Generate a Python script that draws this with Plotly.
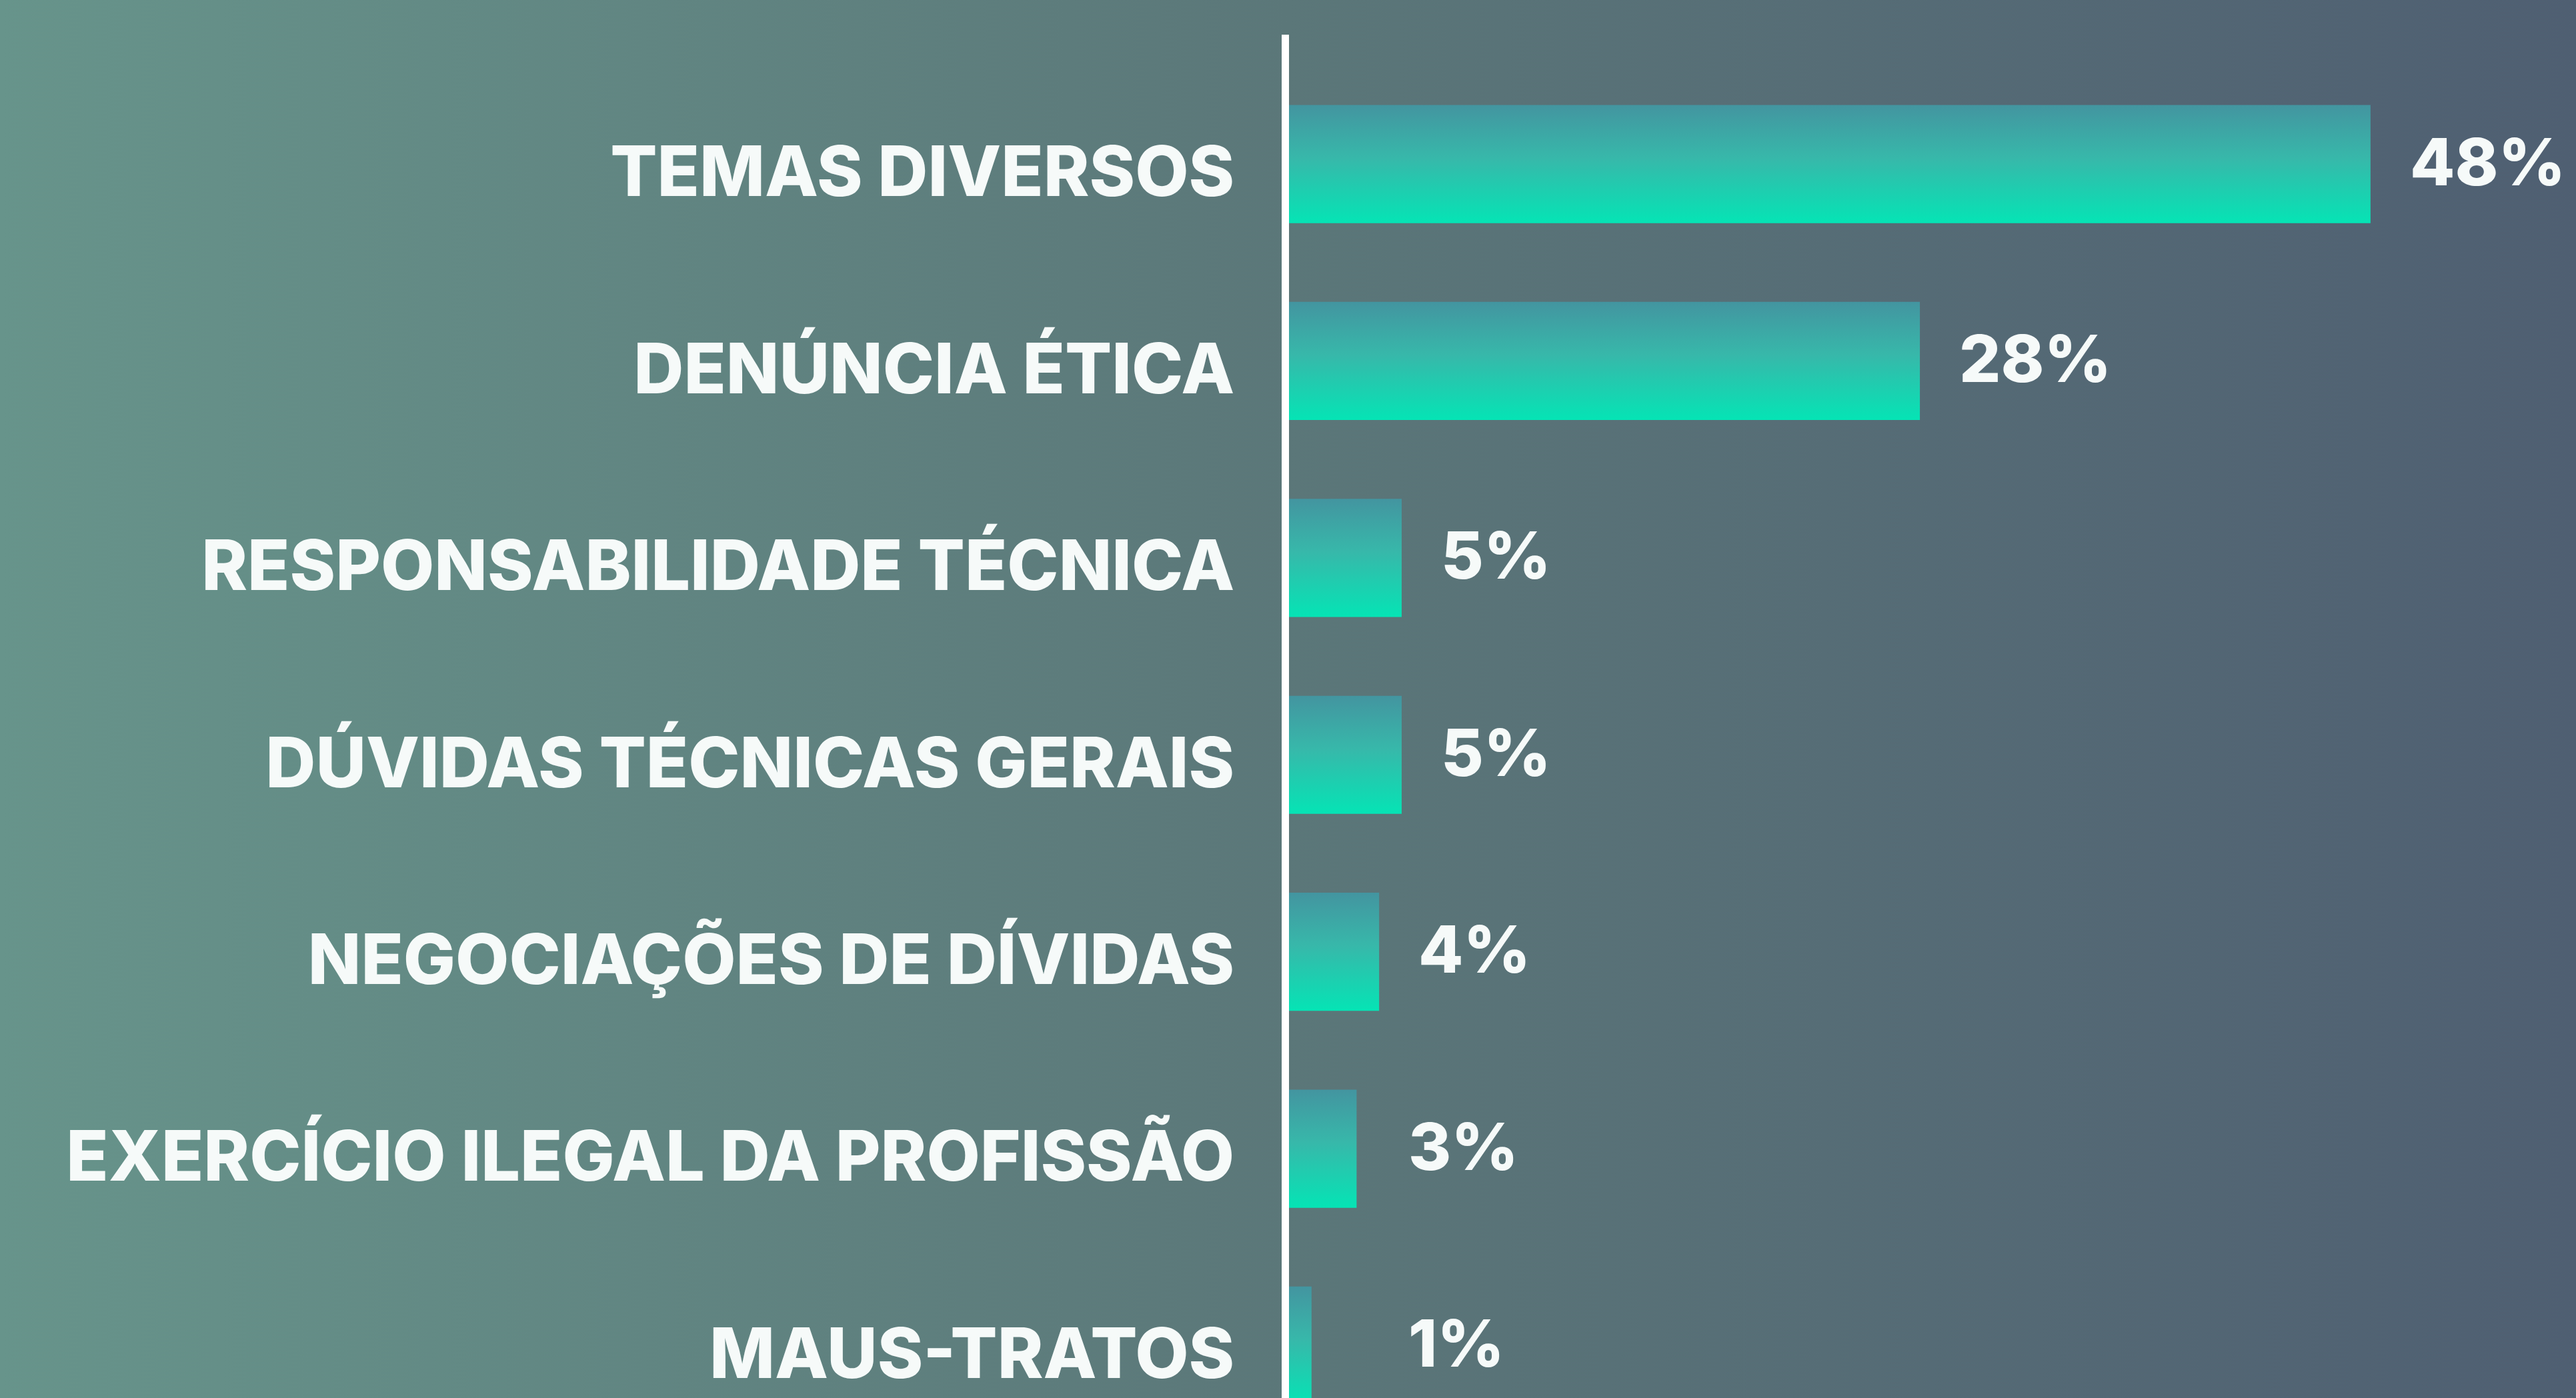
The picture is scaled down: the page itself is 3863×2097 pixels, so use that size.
import plotly.graph_objects as go

# Share of requests by subject (percent)
categories = [
    "TEMAS DIVERSOS",
    "DENÚNCIA ÉTICA",
    "RESPONSABILIDADE TÉCNICA",
    "DÚVIDAS TÉCNICAS GERAIS",
    "NEGOCIAÇÕES DE DÍVIDAS",
    "EXERCÍCIO ILEGAL DA PROFISSÃO",
    "MAUS-TRATOS",
]
values = [48, 28, 5, 5, 4, 3, 1]
value_labels = [f"{v}%" for v in values]

W, H = 3863, 2097
FONT = "Inter"
TEXT = "#F6FAF9"
BAR_HALF = 0.3
BAR_SCALE = [[0.0, "#4395A0"], [0.45, "#37B8AA"], [1.0, "#05E4B5"]]
BG_SCALE = [[0.0, "#67948B"], [0.5, "#5B7779"], [1.0, "#4F5F72"]]
LABEL_FLOOR = 3.55  # small values keep their labels in one column

fig = go.Figure()

# background: horizontal gradient over the whole page
fig.add_trace(go.Scatter(
    x=[0, 1, 1, 0, 0], y=[0, 0, 1, 1, 0],
    mode="lines", fill="toself", line=dict(width=0),
    fillgradient=dict(type="horizontal", colorscale=BG_SCALE, start=0, stop=1),
    hoverinfo="skip", showlegend=False, xaxis="x", yaxis="y",
))

# one filled rectangle per bar, each with its own vertical gradient
for i, v in enumerate(values):
    y0, y1 = i - BAR_HALF, i + BAR_HALF
    fig.add_trace(go.Scatter(
        x=[0, v, v, 0, 0], y=[y0, y0, y1, y1, y0],
        mode="lines", fill="toself", line=dict(width=0),
        fillgradient=dict(type="vertical", colorscale=BAR_SCALE, start=y0, stop=y1),
        hoverinfo="skip", showlegend=False, xaxis="x2", yaxis="y2",
    ))

annotations = [
    dict(
        x=max(v, LABEL_FLOOR), y=i, xref="x2", yref="y2",
        text=lab, showarrow=False,
        xanchor="left", yanchor="middle", xshift=57, yshift=4,
        font=dict(family=FONT, size=98, color=TEXT, weight=800),
    )
    for i, (v, lab) in enumerate(zip(values, value_labels))
]

fig.update_layout(
    width=W, height=H,
    margin=dict(l=0, r=0, t=0, b=0),
    paper_bgcolor="#5B7779",
    plot_bgcolor="rgba(0,0,0,0)",
    showlegend=False,
    xaxis=dict(domain=[0, 1], range=[0, 1], visible=False, fixedrange=True),
    yaxis=dict(domain=[0, 1], range=[0, 1], visible=False, fixedrange=True),
    xaxis2=dict(
        domain=[1933 / W, 1], range=[0, 57.12], anchor="y2",
        visible=False, showgrid=False, zeroline=False,
    ),
    yaxis2=dict(
        domain=[0, 1 - 52 / H], range=[6.266, -0.657], anchor="x2",
        tickmode="array", tickvals=list(range(len(categories))),
        ticktext=categories,
        tickfont=dict(family=FONT, size=104, color=TEXT, weight=800),
        showline=True, linecolor="#FFFFFF", linewidth=11,
        showgrid=False, zeroline=False, ticks="", ticklabelstandoff=50,
        ticklabelshift=-12, automargin=False,
    ),
    annotations=annotations,
)

fig.write_html("out.html")
